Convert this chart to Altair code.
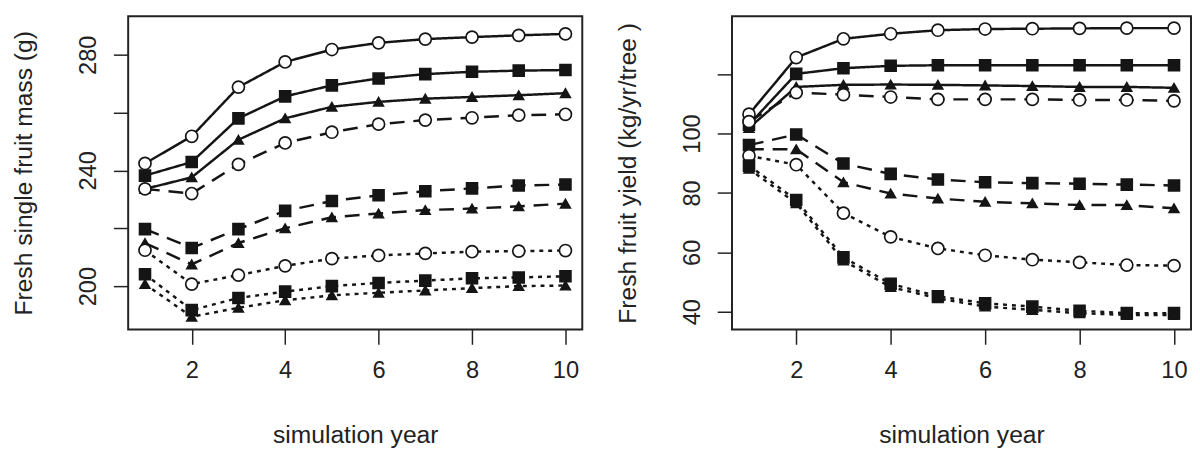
import altair as alt
import pandas as pd

years = list(range(1, 11))
line_types = ["solid", "dashed", "dotted"]
marker_types = ["circle", "square", "triangle"]

# Left panel: fresh single fruit mass (g)
mass_solid_circle = [242.4, 251.8, 268.8, 277.5, 281.8, 284.1, 285.4, 286.1, 286.7, 287.2]
mass_solid_square = [238.2, 242.9, 258.0, 265.6, 269.4, 271.8, 273.3, 274.1, 274.5, 274.7]
mass_solid_triangle = [233.6, 237.6, 250.6, 258.0, 262.0, 263.7, 264.8, 265.4, 266.0, 266.7]
mass_dashed_circle = [233.6, 232.0, 242.1, 249.5, 253.2, 256.0, 257.4, 258.2, 259.1, 259.4]
mass_dashed_square = [219.7, 213.2, 219.7, 226.0, 229.4, 231.4, 232.8, 233.8, 234.8, 235.1]
mass_dashed_triangle = [214.9, 207.5, 214.9, 220.0, 223.8, 225.1, 226.3, 226.8, 227.6, 228.5]
mass_dotted_circle = [212.4, 200.7, 203.8, 207.0, 209.5, 210.6, 211.3, 211.9, 212.1, 212.3]
mass_dotted_square = [204.1, 191.7, 195.9, 198.1, 200.0, 201.1, 201.9, 202.7, 203.0, 203.4]
mass_dotted_triangle = [200.7, 189.4, 192.5, 195.1, 196.8, 197.7, 198.5, 199.3, 200.0, 200.2]

# Right panel: fresh fruit yield (kg/yr/tree)
yield_solid_circle = [106.5, 125.6, 131.9, 133.6, 134.8, 135.2, 135.3, 135.4, 135.5, 135.5]
yield_solid_square = [103.0, 120.1, 122.0, 122.8, 123.0, 123.0, 123.0, 123.0, 123.0, 123.0]
yield_solid_triangle = [101.9, 115.7, 116.4, 116.5, 116.4, 116.2, 116.0, 115.7, 115.7, 115.4]
yield_dashed_circle = [104.0, 113.8, 113.1, 112.3, 111.5, 111.5, 111.5, 111.3, 111.3, 111.0]
yield_dashed_square = [96.1, 99.7, 89.9, 86.4, 84.5, 83.6, 83.3, 83.1, 82.8, 82.5]
yield_dashed_triangle = [94.7, 94.7, 83.6, 79.8, 78.1, 77.0, 76.5, 75.9, 75.9, 74.8]
yield_dotted_circle = [92.5, 89.5, 73.2, 65.2, 61.3, 59.0, 57.5, 56.6, 55.7, 55.5]
yield_dotted_square = [89.2, 77.6, 58.3, 49.4, 45.2, 42.8, 41.7, 40.3, 39.5, 39.5]
yield_dotted_triangle = [88.1, 76.5, 57.2, 48.3, 44.5, 41.7, 40.6, 39.5, 38.9, 38.9]

mass_series = {
    ("solid", "circle"): mass_solid_circle,
    ("solid", "square"): mass_solid_square,
    ("solid", "triangle"): mass_solid_triangle,
    ("dashed", "circle"): mass_dashed_circle,
    ("dashed", "square"): mass_dashed_square,
    ("dashed", "triangle"): mass_dashed_triangle,
    ("dotted", "circle"): mass_dotted_circle,
    ("dotted", "square"): mass_dotted_square,
    ("dotted", "triangle"): mass_dotted_triangle,
}
yield_series = {
    ("solid", "circle"): yield_solid_circle,
    ("solid", "square"): yield_solid_square,
    ("solid", "triangle"): yield_solid_triangle,
    ("dashed", "circle"): yield_dashed_circle,
    ("dashed", "square"): yield_dashed_square,
    ("dashed", "triangle"): yield_dashed_triangle,
    ("dotted", "circle"): yield_dotted_circle,
    ("dotted", "square"): yield_dotted_square,
    ("dotted", "triangle"): yield_dotted_triangle,
}


def to_frame(series):
    rows = []
    for (lty, mk), vals in series.items():
        for yr, v in zip(years, vals):
            rows.append({"year": yr, "value": v, "lty": lty, "marker": mk,
                         "series": f"{lty}-{mk}"})
    return pd.DataFrame(rows)


INK = "#151515"
FONT = "Liberation Sans"


def panel(df, ydom, yvals, label_expr, ytitle, w, h):
    x = alt.X("year:Q",
              scale=alt.Scale(domain=[0.64, 10.36], nice=False, zero=False),
              axis=alt.Axis(values=[2, 4, 6, 8, 10], title="simulation year",
                            labelPadding=15, titleY=115, titleBaseline="alphabetic"))
    y = alt.Y("value:Q",
              scale=alt.Scale(domain=ydom, nice=False, zero=False),
              axis=alt.Axis(values=yvals, labelExpr=label_expr, title=ytitle,
                            labelAngle=-90, labelAlign="center", labelBaseline="bottom",
                            labelPadding=13, titleX=-106, titleBaseline="middle"))
    base = alt.Chart(df).encode(x=x, y=y, detail="series:N")
    lines = base.mark_line(color=INK, strokeWidth=2.5).encode(
        strokeDash=alt.StrokeDash("lty:N",
                                  scale=alt.Scale(domain=line_types,
                                                  range=[[1, 0], [15, 9], [4, 5]]),
                                  legend=None))
    pts = base.mark_point(filled=True, stroke=INK, strokeWidth=1.7, opacity=1).encode(
        shape=alt.Shape("marker:N",
                        scale=alt.Scale(domain=marker_types,
                                        range=["circle", "square", "triangle-up"]),
                        legend=None),
        fill=alt.Fill("marker:N",
                      scale=alt.Scale(domain=marker_types, range=["white", INK, INK]),
                      legend=None),
        size=alt.Size("marker:N",
                      scale=alt.Scale(domain=marker_types, range=[150, 95, 115]),
                      legend=None),
    )
    return alt.layer(lines, pts).properties(width=w, height=h)


left = panel(to_frame(mass_series), [185, 293.3], [200, 220, 240, 260, 280],
             "datum.value % 40 == 0 ? datum.label : ''",
             "Fresh single fruit mass (g)", 461, 318)
right = panel(to_frame(yield_series), [34, 139.5], [40, 60, 80, 100, 120],
              "datum.value <= 100 ? datum.label : ''",
              "Fresh fruit yield (kg/yr/tree )", 466, 318)

chart = alt.hconcat(left, right, spacing=31).properties(
    padding={"left": 2, "top": 4, "right": 0, "bottom": 0}
).configure_axis(
    labelFont=FONT, labelFontSize=24, labelColor="#222",
    titleFont=FONT, titleFontSize=25, titleColor="#222", titleFontWeight="normal",
    tickColor="#222", tickSize=15, tickWidth=1.5, domain=False, grid=False,
).configure_view(stroke="#222", strokeWidth=2)

chart.save("out.html", embed_options={"renderer": "svg", "actions": False})
